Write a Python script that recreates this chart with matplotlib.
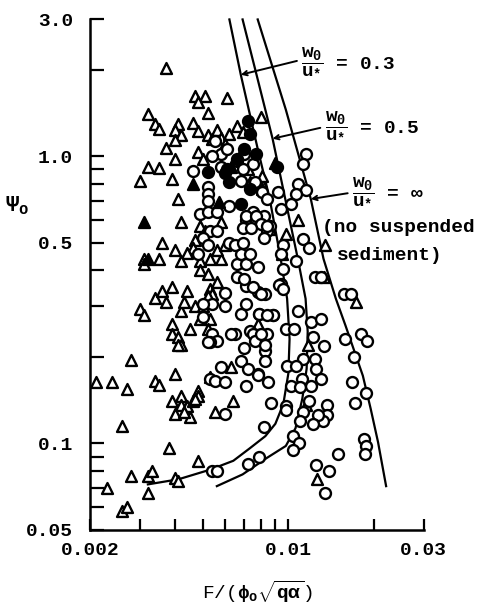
import matplotlib
matplotlib.use("Agg")
import matplotlib.pyplot as plt
from matplotlib.ticker import FixedLocator, NullFormatter, FixedFormatter

plt.rcParams['font.family'] = ['Liberation Mono', 'DejaVu Sans']
plt.rcParams['font.weight'] = 'bold'
plt.rcParams['mathtext.fontset'] = 'custom'
plt.rcParams['mathtext.rm'] = 'Liberation Mono:bold'
plt.rcParams['mathtext.it'] = 'Liberation Mono:bold'
plt.rcParams['mathtext.bf'] = 'Liberation Mono:bold'

# ---------------- data ----------------
tri_open_x = [0.0037, 0.0047, 0.0051, 0.0048, 0.0061, 0.0032, 0.0052, 0.0034, 0.0035, 0.0041,
              0.0040, 0.0042, 0.0040, 0.0046, 0.0048, 0.0052, 0.0056, 0.0058, 0.0062, 0.0066,
              0.0037, 0.0040, 0.0032, 0.0035, 0.0030, 0.0039, 0.0048, 0.0050, 0.0041, 0.0080,
              0.0069, 0.0054, 0.0060, 0.0073, 0.0080, 0.0081, 0.0042, 0.0036, 0.0072, 0.0081,
              0.0047, 0.0046, 0.0044, 0.0040, 0.0042, 0.0049, 0.0053, 0.0058, 0.0056, 0.0060,
              0.0058, 0.0049, 0.0051, 0.0035, 0.0031, 0.0031, 0.0049, 0.0052, 0.0053, 0.0054,
              0.0056, 0.0052, 0.0034, 0.0036, 0.0037, 0.0039, 0.0042, 0.0044, 0.0043, 0.0047,
              0.0050, 0.0030, 0.0031, 0.0039, 0.0039, 0.0041, 0.0042, 0.0045, 0.0049, 0.0053,
              0.0052, 0.0040, 0.0034, 0.0035, 0.0041, 0.0028, 0.0021, 0.0024, 0.0027, 0.0048,
              0.0048, 0.0039, 0.0042, 0.0042, 0.0044, 0.0046, 0.0047, 0.0040, 0.0045, 0.0043,
              0.0064, 0.0055, 0.0053, 0.0063, 0.0026, 0.0038, 0.0048, 0.0028, 0.0032, 0.0033,
              0.0040, 0.0041, 0.0023, 0.0032, 0.0026, 0.0027, 0.0108, 0.0135, 0.0133, 0.0173,
              0.0117, 0.0115, 0.0126, 0.0053, 0.0078, 0.0095, 0.0098, 0.0086]
tri_open_y = [2.02, 1.62, 1.62, 1.54, 1.59, 1.40, 1.41, 1.29, 1.24, 1.29,
              1.23, 1.18, 1.14, 1.30, 1.22, 1.18, 1.23, 1.16, 1.19, 1.27,
              1.07, 0.98, 0.92, 0.91, 0.82, 0.83, 1.03, 0.98, 0.71, 1.37,
              1.21, 1.15, 1.10, 0.81, 0.81, 0.77, 0.59, 0.50, 0.90, 0.85,
              0.51, 0.48, 0.46, 0.47, 0.43, 0.43, 0.44, 0.44, 0.47, 0.49,
              0.59, 0.57, 0.55, 0.44, 0.44, 0.42, 0.40, 0.39, 0.345, 0.33,
              0.365, 0.325, 0.32, 0.34, 0.31, 0.35, 0.29, 0.34, 0.31, 0.30,
              0.30, 0.294, 0.28, 0.26, 0.24, 0.235, 0.22, 0.25, 0.27, 0.27,
              0.25, 0.175, 0.165, 0.16, 0.22, 0.195, 0.164, 0.164, 0.155, 0.152,
              0.146, 0.14, 0.146, 0.136, 0.135, 0.14, 0.143, 0.127, 0.124, 0.129,
              0.14, 0.129, 0.17, 0.185, 0.115, 0.096, 0.087, 0.077, 0.077, 0.080,
              0.076, 0.074, 0.070, 0.067, 0.058, 0.060, 0.60, 0.49, 0.38, 0.31,
              0.22, 0.136, 0.075, 0.23, 0.26, 0.457, 0.536, 0.558]

tri_fill_x = [0.0031, 0.0032, 0.0046, 0.0057, 0.0090, 0.0063]
tri_fill_y = [0.59, 0.44, 0.80, 0.69, 0.95, 0.92]

circ_fill_x = [0.0072, 0.0073, 0.0052, 0.0062, 0.0068, 0.0073, 0.0091, 0.0061, 0.0066, 0.0070,
               0.0060, 0.0077]
circ_fill_y = [1.32, 1.19, 0.88, 0.81, 0.68, 0.77, 0.92, 0.90, 0.98, 1.06,
               0.87, 1.02]

circ_open_x = [0.0046, 0.0052, 0.0052, 0.0052, 0.0055, 0.0058, 0.0061, 0.0066, 0.0070, 0.0075,
               0.0068, 0.0076, 0.0081, 0.0084, 0.0054, 0.0058, 0.0069, 0.0092, 0.0094, 0.0082,
               0.0086, 0.0084, 0.0075, 0.0071, 0.0077, 0.0069, 0.0115, 0.0113, 0.0108, 0.0115,
               0.0106, 0.0102, 0.0096, 0.0094, 0.0106, 0.0113, 0.0118, 0.0124, 0.0130, 0.0094,
               0.0157, 0.0166, 0.0108, 0.0078, 0.0096, 0.0093, 0.0096, 0.0083, 0.0078, 0.0088,
               0.0079, 0.0120, 0.0130, 0.0098, 0.0105, 0.0084, 0.0180, 0.0190, 0.0122, 0.0158,
               0.0133, 0.0083, 0.0083, 0.0171, 0.0113, 0.0124, 0.0099, 0.0106, 0.0125, 0.0078,
               0.0112, 0.0130, 0.0085, 0.0168, 0.0102, 0.0110, 0.0120, 0.0188, 0.0087, 0.0098,
               0.0118, 0.0137, 0.0172, 0.0098, 0.0113, 0.0110, 0.0137, 0.0132, 0.0127, 0.0122,
               0.0082, 0.0104, 0.0109, 0.0104, 0.0184, 0.0188, 0.0186, 0.0150, 0.0079, 0.0125,
               0.0139, 0.0135, 0.0054, 0.0050, 0.0060, 0.0068, 0.0079, 0.0088, 0.0073, 0.0075,
               0.0065, 0.0054, 0.0056, 0.0076, 0.0070, 0.0068, 0.0072, 0.0078, 0.0058, 0.0053,
               0.0055, 0.0060, 0.0071, 0.0060, 0.0072, 0.0054, 0.0056, 0.0048, 0.0066, 0.0068,
               0.0071, 0.0066, 0.0071, 0.0060, 0.0071, 0.0063, 0.0053, 0.0049, 0.0052, 0.0056,
               0.0062, 0.0053, 0.0050, 0.0056, 0.0071, 0.0077, 0.0080, 0.0084, 0.0082, 0.0074,
               0.0052, 0.0062, 0.0065, 0.0069, 0.0073, 0.0070, 0.0075, 0.0080, 0.0084, 0.0052,
               0.0080, 0.0083, 0.0050]
circ_open_y = [0.89, 0.78, 0.74, 0.70, 1.13, 1.02, 1.06, 0.96, 1.02, 0.94,
               0.82, 0.81, 0.75, 0.71, 1.00, 0.92, 0.90, 0.75, 0.655, 0.62,
               0.57, 0.55, 0.64, 0.60, 0.59, 0.56, 1.02, 0.94, 0.80, 0.76,
               0.74, 0.68, 0.49, 0.455, 0.43, 0.515, 0.48, 0.38, 0.38, 0.36,
               0.33, 0.33, 0.29, 0.41, 0.405, 0.356, 0.345, 0.33, 0.337, 0.28,
               0.283, 0.265, 0.27, 0.25, 0.25, 0.24, 0.24, 0.228, 0.235, 0.23,
               0.218, 0.21, 0.194, 0.20, 0.197, 0.197, 0.186, 0.186, 0.182, 0.175,
               0.168, 0.168, 0.163, 0.163, 0.158, 0.157, 0.158, 0.150, 0.138, 0.135,
               0.14, 0.136, 0.138, 0.131, 0.129, 0.12, 0.126, 0.12, 0.126, 0.117,
               0.114, 0.106, 0.10, 0.095, 0.104, 0.098, 0.092, 0.092, 0.090, 0.084,
               0.080, 0.067, 0.306, 0.306, 0.30, 0.283, 0.283, 0.28, 0.247, 0.24,
               0.24, 0.24, 0.227, 0.227, 0.214, 0.194, 0.182, 0.173, 0.185, 0.168,
               0.165, 0.163, 0.158, 0.127, 0.085, 0.080, 0.080, 0.457, 0.42, 0.457,
               0.42, 0.38, 0.354, 0.335, 0.306, 0.24, 0.225, 0.63, 0.64, 0.64,
               0.67, 0.55, 0.52, 0.55, 0.62, 0.62, 0.58, 0.57, 0.52, 0.56,
               0.49, 0.50, 0.49, 0.50, 0.457, 0.374, 0.35, 0.33, 0.28, 0.225,
               0.24, 0.22, 0.275]

# theoretical curves, labelled by w0/u*
curve_labels = ["0.3", "0.5", "\\infty"]
curve_03_x = [0.0062, 0.0068, 0.0078, 0.0086, 0.0094, 0.0099, 0.0101, 0.0100, 0.0096, 0.0090,
              0.0083, 0.0073, 0.0064, 0.0053, 0.0041, 0.0032]
curve_03_y = [2.99, 1.92, 1.06, 0.709, 0.439, 0.319, 0.231, 0.175, 0.137, 0.117,
              0.106, 0.096, 0.087, 0.081, 0.075, 0.072]
curve_05_x = [0.0069, 0.0078, 0.0088, 0.0108, 0.0115, 0.0117, 0.0116, 0.0112, 0.0106, 0.0098,
              0.0084, 0.0069, 0.0056]
curve_05_y = [2.99, 1.85, 1.15, 0.439, 0.319, 0.245, 0.182, 0.143, 0.113, 0.098,
              0.089, 0.078, 0.071]
curve_inf_x = [0.0078, 0.0098, 0.0120, 0.0133, 0.0147, 0.0159, 0.0183, 0.0195, 0.0207, 0.0221]
curve_inf_y = [2.99, 1.45, 0.709, 0.439, 0.319, 0.257, 0.172, 0.132, 0.101, 0.071]

x_ticks_labeled = [0.002, 0.01, 0.03]
x_tick_labels = ["0.002", "0.01", "0.03"]
y_ticks_labeled = [3.0, 1.0, 0.5, 0.1, 0.05]
y_tick_labels = ["3.0", "1.0", "0.5", "0.1", "0.05"]

# ---------------- figure ----------------
fig = plt.figure(figsize=(4.86, 6.14), dpi=100)
ax = fig.add_axes([0.185, 0.137, 0.687, 0.832])
ax.set_xscale('log')
ax.set_yscale('log')
ax.set_xlim(0.002, 0.03)
ax.set_ylim(0.05, 3.0)

for s in ['top', 'right']:
    ax.spines[s].set_visible(False)
for s in ['left', 'bottom']:
    ax.spines[s].set_linewidth(1.8)

lw = 1.6
for cx, cy in [(curve_03_x, curve_03_y), (curve_05_x, curve_05_y), (curve_inf_x, curve_inf_y)]:
    ax.plot(cx, cy, color='black', lw=lw, zorder=2, clip_on=False)

msize = 62
ax.scatter(tri_open_x, tri_open_y, marker='^', s=msize, facecolors='white',
           edgecolors='black', linewidths=1.7, zorder=3)
ax.scatter(circ_open_x, circ_open_y, marker='o', s=msize, facecolors='white',
           edgecolors='black', linewidths=1.7, zorder=3)
ax.scatter(tri_fill_x, tri_fill_y, marker='^', s=msize, facecolors='black',
           edgecolors='black', linewidths=1.7, zorder=4)
ax.scatter(circ_fill_x, circ_fill_y, marker='o', s=msize, facecolors='black',
           edgecolors='black', linewidths=1.7, zorder=4)

# ticks
ax.xaxis.set_major_locator(FixedLocator(x_ticks_labeled))
ax.xaxis.set_major_formatter(FixedFormatter(x_tick_labels))
ax.xaxis.set_minor_locator(FixedLocator([0.003, 0.004, 0.005, 0.006, 0.007, 0.008, 0.009, 0.02]))
ax.xaxis.set_minor_formatter(NullFormatter())
ax.yaxis.set_major_locator(FixedLocator(y_ticks_labeled))
ax.yaxis.set_major_formatter(FixedFormatter(y_tick_labels))
ax.yaxis.set_minor_locator(FixedLocator([2.0, 0.9, 0.8, 0.7, 0.6, 0.4, 0.3, 0.2,
                                         0.09, 0.08, 0.07, 0.06]))
ax.yaxis.set_minor_formatter(NullFormatter())

ax.tick_params(axis='both', which='both', direction='in', width=1.6, labelsize=14)
ax.tick_params(axis='x', which='major', length=8, pad=9)
ax.tick_params(axis='x', which='minor', length=8)
ax.tick_params(axis='y', which='major', length=10, pad=12)
ax.tick_params(axis='y', which='minor', length=10)
for t in ax.xaxis.get_major_ticks():
    if abs(t.get_loc() - 0.01) < 1e-9:
        t.tick1line.set_markersize(13)
for t in ax.yaxis.get_major_ticks():
    if abs(t.get_loc() - 1.0) < 1e-9 or abs(t.get_loc() - 0.1) < 1e-9:
        t.tick1line.set_markersize(14)

ax.set_xlabel(r'F/($\phi_{\mathrm{o}}\sqrt{q\alpha}$)', fontsize=14, labelpad=14)
fig.text(0.035, 0.665, r'$\Psi_{\mathrm{o}}$', fontsize=16, ha='center', va='center')

# annotations
arrow = dict(arrowstyle='->', color='black', lw=1.4, shrinkA=0, shrinkB=0,
             mutation_scale=8)
frac = r'$\dfrac{\mathrm{w}_{0}}{\mathrm{u}_{*}}$'
ax.annotate('', xy=(curve_03_x[1], curve_03_y[1]), xytext=(0.62, 0.918),
            textcoords='axes fraction', arrowprops=arrow, annotation_clip=False)
ax.text(0.632, 0.918, frac + ' = ' + curve_labels[0], transform=ax.transAxes,
        fontsize=14, ha='left', va='center', clip_on=False)
ax.annotate('', xy=(curve_05_x[2], curve_05_y[2]), xytext=(0.69, 0.787),
            textcoords='axes fraction', arrowprops=arrow, annotation_clip=False)
ax.text(0.705, 0.793, frac + ' = ' + curve_labels[1], transform=ax.transAxes,
        fontsize=14, ha='left', va='center', clip_on=False)
ax.annotate('', xy=(curve_inf_x[2], curve_inf_y[2]), xytext=(0.772, 0.659),
            textcoords='axes fraction', arrowprops=arrow, annotation_clip=False)
ax.text(0.785, 0.663, frac + r' = $\infty$', transform=ax.transAxes,
        fontsize=14, ha='left', va='center', clip_on=False)
ax.text(0.695, 0.591, '(no suspended', transform=ax.transAxes,
        fontsize=14, ha='left', va='center', clip_on=False)
ax.text(0.740, 0.538, 'sediment)', transform=ax.transAxes,
        fontsize=14, ha='left', va='center', clip_on=False)

fig.savefig('out.png', dpi=100)
